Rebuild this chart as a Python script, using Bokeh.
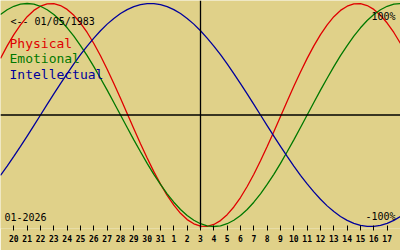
import numpy as np
from bokeh.plotting import figure
from bokeh.models import Range1d, Span, Label, FixedTicker
from bokeh.embed import file_html
from bokeh.resources import INLINE

# Day offsets (0 = left edge, 30 = right edge), half-day steps
days = np.arange(0, 30.5, 0.5)

physical = [0.508, 0.620, 0.721, 0.809, 0.882, 0.938, 0.976, 0.997, 0.999, 0.982,
            0.947, 0.894, 0.825, 0.740, 0.641, 0.531, 0.411, 0.283, 0.150, 0.014,
            -0.123, -0.257, -0.386, -0.508, -0.620, -0.721, -0.809, -0.882, -0.938, -0.976,
            -0.997, -0.999, -0.982, -0.947, -0.894, -0.825, -0.740, -0.641, -0.531, -0.411,
            -0.283, -0.150, -0.014, 0.123, 0.257, 0.386, 0.508, 0.620, 0.721, 0.809,
            0.882, 0.938, 0.976, 0.997, 0.999, 0.982, 0.947, 0.894, 0.825, 0.740, 0.641]

emotional = [0.901, 0.944, 0.975, 0.994, 1.0, 0.994, 0.975, 0.944, 0.901, 0.847,
             0.782, 0.707, 0.623, 0.532, 0.434, 0.330, 0.223, 0.112, 0.0, -0.112,
             -0.223, -0.330, -0.434, -0.532, -0.623, -0.707, -0.782, -0.847, -0.901, -0.944,
             -0.975, -0.994, -1.0, -0.994, -0.975, -0.944, -0.901, -0.847, -0.782, -0.707,
             -0.623, -0.532, -0.434, -0.330, -0.223, -0.112, 0.0, 0.112, 0.223, 0.330,
             0.434, 0.532, 0.623, 0.707, 0.782, 0.847, 0.901, 0.944, 0.975, 0.994, 1.0]

intellectual = [-0.541, -0.458, -0.372, -0.282, -0.189, -0.095, 0.0, 0.095, 0.189, 0.282,
                0.372, 0.458, 0.541, 0.618, 0.690, 0.756, 0.815, 0.866, 0.910, 0.945,
                0.972, 0.990, 0.999, 0.999, 0.990, 0.972, 0.945, 0.910, 0.866, 0.815,
                0.756, 0.690, 0.618, 0.541, 0.458, 0.372, 0.282, 0.189, 0.095, 0.0,
                -0.095, -0.189, -0.282, -0.372, -0.458, -0.541, -0.618, -0.690, -0.756, -0.815,
                -0.866, -0.910, -0.945, -0.972, -0.990, -0.999, -0.999, -0.990, -0.972, -0.945, -0.910]

tick_days = list(range(1, 30))
tick_labels = ["20", "21", "22", "23", "24", "25", "26", "27", "28", "29", "30", "31",
               "1", "2", "3", "4", "5", "6", "7", "8", "9", "10", "11", "12", "13",
               "14", "15", "16", "17"]
today = 15

BG = "#E0D189"
RED = "#E00000"
GREEN = "#007800"
BLUE = "#00009C"
FONT = "DejaVu Sans Mono"

FRAME_H = 228
ZERO_PX = 114.5
AMP_PX = 111.5

def px2x(px):
    return px / 400.0 * 30.0

def py2y(py):
    return (ZERO_PX - py) / AMP_PX

p = figure(width=400, height=250, output_backend="svg", toolbar_location=None,
           x_range=Range1d(0, 30),
           y_range=Range1d(py2y(FRAME_H), py2y(0)),
           min_border=0, min_border_bottom=22, y_axis_location=None)
p.background_fill_color = BG
p.border_fill_color = BG
p.outline_line_color = None
p.xgrid.visible = False
p.ygrid.visible = False

ax = p.xaxis[0]
ax.ticker = FixedTicker(ticks=tick_days)
ax.major_label_overrides = {d: l for d, l in zip(tick_days, tick_labels)}
ax.axis_line_color = None
ax.major_tick_line_color = "black"
ax.minor_tick_line_color = None
ax.major_tick_in = 3
ax.major_tick_out = 2
ax.major_label_standoff = 4
ax.major_label_text_font = FONT
ax.major_label_text_font_size = "8px"
ax.major_label_text_font_style = "bold"
ax.major_label_text_color = "black"

p.add_layout(Span(location=0, dimension="width", line_color="black", line_width=1.6))
p.add_layout(Span(location=today, dimension="height", line_color="black", line_width=1.3))

p.line(days, physical, line_color=RED, line_width=1.3)
p.line(days, emotional, line_color=GREEN, line_width=1.3)
p.line(days, intellectual, line_color=BLUE, line_width=1.3)

def add_text(txt, px, py, color, size, align="left"):
    p.add_layout(Label(x=px2x(px), y=py2y(py), text=txt, text_color=color,
                       text_font=FONT, text_font_size=size, text_align=align,
                       text_baseline="alphabetic"))

add_text("<-- 01/05/1983", 10, 21, "black", "10px")
add_text("Physical", 9, 43, RED, "13px")
add_text("Emotional", 9, 58, GREEN, "13px")
add_text("Intellectual", 9, 74, BLUE, "13px")
add_text("100%", 395, 16, "black", "10px", "right")
add_text("-100%", 395, 216, "black", "10px", "right")
add_text("01-2026", 4, 216, "black", "10px")

open("out.html", "w").write(file_html(p, INLINE))
